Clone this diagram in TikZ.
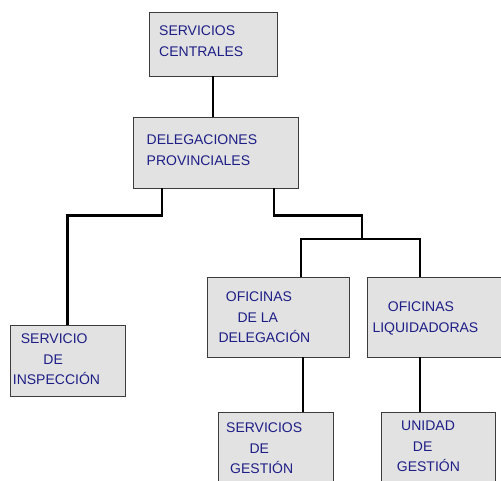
\documentclass[tikz,border=0pt]{standalone}
\usepackage{fontspec}
\setmainfont{Liberation Sans}
\usetikzlibrary{positioning,calc}

\begin{document}
\begin{tikzpicture}[x=1pt,y=-1pt,every node/.style={font=\fontsize{14}{20.5}\selectfont}]
        \definecolor{orgfill}{RGB}{226,226,226}
        \definecolor{orgtext}{RGB}{30,30,135}
        \definecolor{orgedge}{RGB}{60,60,60}
        \tikzset{
            unitbox/.style={draw=orgedge, fill=orgfill, line width=0.8pt, inner sep=0pt},
            unittext/.style={text=orgtext, align=left, inner sep=0pt, anchor=north west},
            link/.style={line width=2.2pt, black}
        }
        \useasboundingbox (0,0) rectangle (501,480);

        % Top levels
        \node[unitbox, minimum width=128pt, minimum height=64pt] (central) at (213,44) {};
        \node[unitbox, minimum width=165pt, minimum height=71pt] (deleg) at (215.5,152.5) {};

        % Second row
        \node[unitbox, minimum width=115pt, minimum height=71pt] (inspec) at (67.5,360.5) {};
        \node[unitbox, minimum width=142pt, minimum height=80pt] (ofideleg) at (278,317) {};
        \node[unitbox, minimum width=140pt, minimum height=80pt] (ofiliq) at (437,317) {};

        % Bottom row (runs off the page)
        \node[unitbox, minimum width=115pt, minimum height=90pt] (gestion) at (275.5,457) {};
        \node[unitbox, minimum width=114pt, minimum height=90pt] (unidad) at (438,457) {};

        % Box texts
        \node[unittext] (centraltext) at (159,26) {SERVICIOS\\CENTRALES};
        \node[unittext] (delegtext) at (146.5,135) {DELEGACIONES\\PROVINCIALES};
        \node[unittext] (inspectext) at (12.7,334) {\hspace*{8pt}SERVICIO\\\hspace*{30.5pt}DE\\INSPECCIÓN};
        \node[unittext] (ofidelegtext) at (218.3,292) {\hspace*{7.4pt}OFICINAS\\\hspace*{19pt}DE LA\\DELEGACIÓN};
        \node[unittext] (ofiliqtext) at (372.3,302) {\hspace*{15.4pt}OFICINAS\\LIQUIDADORAS};
        \node[unittext] (gestiontext) at (226,423) {SERVICIOS\\\hspace*{23.3pt}DE\\\hspace*{4pt}GESTIÓN};
        \node[unittext] (unidadtext) at (396.7,421) {\hspace*{4.3pt}UNIDAD\\\hspace*{16pt}DE\\GESTIÓN};

        % Connectors
        \coordinate (split) at (362,239);
        \draw[link] (central.south) -- (central.south |- deleg.north);
        \draw[link] ($(deleg.south west)+(29,0)$) -- ++(0,27) -| (inspec.north);
        \draw[link] ($(deleg.south west)+(141,0)$) -- ++(0,27) -| (split);
        \draw[link] ($(ofideleg.north west)+(94,0)$) |- (split) -| ($(ofiliq.north west)+(53,0)$);
        \draw[link] ($(ofideleg.south west)+(96,0)$) -- ++(0,55);
        \draw[link] ($(ofiliq.south west)+(53,0)$) -- ++(0,55);
    \end{tikzpicture}
\end{document}
